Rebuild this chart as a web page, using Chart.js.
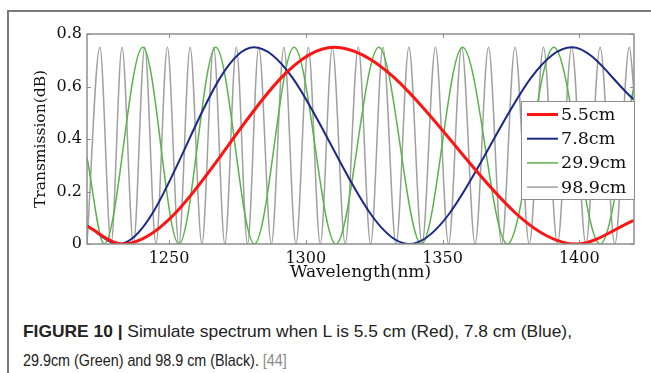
<!DOCTYPE html>
<html>
<head>
<meta charset="utf-8">
<script src="https://cdn.jsdelivr.net/npm/chart.js"></script>
<style>
  html, body { margin: 0; padding: 0; background: #fff; }
  body { width: 651px; height: 373px; position: relative; overflow: hidden; }
  #frame { position: absolute; left: 7px; top: 10px; width: 660px; height: 380px;
           border-top: 2px solid #7a7a7a; border-left: 2px solid #7a7a7a; }
  #plot { position: absolute; left: 0; top: 0; }
  .cap { position: absolute; left: 23px; font-family: 'Liberation Sans', Arial, sans-serif;
         font-size: 17px; line-height: 17px; color: #222; white-space: nowrap; transform-origin: 0 0; }
  .ref { color: #8a8a8a; }
</style>
</head>
<body>
<div id="frame"></div>
<canvas id="plot" width="651" height="300"></canvas>
<div class="cap" id="cap1" style="top:323px"><b>FIGURE 10 |</b> Simulate spectrum when L is 5.5 cm (Red), 7.8 cm (Blue),</div>
<div class="cap" id="cap2" style="top:352px">29.9cm (Green) and 98.9 cm (Black). <span class="ref">[44]</span></div>
<script>
    'use strict';

    // ─── DATA ───────────────────────────────────────────────
    const xTicks = [1250, 1300, 1350, 1400];
    const yTicks = [0, 0.2, 0.4, 0.6, 0.8];

    const seriesLabels = ['5.5cm', '7.8cm', '29.9cm', '98.9cm'];

    // 5.5 cm (red)
    const redWl = [1220, 1232.9, 1310.3, 1398.9, 1420];
    const redT  = [0.068, 0, 0.75, 0, 0.09];

    // 7.8 cm (blue)
    const blueWl = [1220, 1231.6, 1281.0, 1337.7, 1397.2, 1420];
    const blueT  = [0.07, 0, 0.75, 0, 0.75, 0.55];

    // 29.9 cm (green)
    const greenWl = [1220, 1226.3, 1240.4, 1253.6, 1267.1, 1281.2, 1295.7, 1311.0,
                     1326.7, 1342.3, 1357.3, 1373.7, 1390.7, 1407.6, 1420];
    const greenT  = [0.33, 0, 0.75, 0, 0.75, 0, 0.75, 0,
                     0.75, 0, 0.75, 0, 0.75, 0, 0.6];

    // 98.9 cm (gray)
    const grayWl = [1220, 1224.7, 1228.8, 1232.8, 1237.0, 1241.1, 1245.2, 1249.4, 1253.6,
                    1257.7, 1262.0, 1266.3, 1270.4, 1274.6, 1278.7, 1282.8, 1287.4, 1292.0,
                    1296.4, 1300.9, 1305.3, 1309.7, 1314.4, 1319.2, 1323.7, 1328.2, 1333.0,
                    1337.7, 1342.5, 1347.4, 1352.2, 1357.0, 1361.9, 1366.8, 1371.6, 1376.5,
                    1381.7, 1386.9, 1392.0, 1397.2, 1402.4, 1407.6, 1413.0, 1418.3, 1420];
    const grayT  = [0, 0.75, 0, 0.75, 0, 0.75, 0, 0.75, 0,
                    0.75, 0, 0.75, 0, 0.75, 0, 0.75, 0, 0.75,
                    0, 0.75, 0, 0.75, 0, 0.75, 0, 0.75, 0,
                    0.75, 0, 0.75, 0, 0.75, 0, 0.75, 0, 0.75,
                    0, 0.75, 0, 0.75, 0, 0.75, 0, 0.75, 0.58];

    // ─── HELPERS ────────────────────────────────────────────
    const toPoints = (wl, t) => wl.map((x, i) => ({ x: x, y: t[i] }));

    function lineSet(label, pts, color, width) {
        return {
            label: label, data: pts, borderColor: color, borderWidth: width,
            pointRadius: 0, fill: false, tension: 0.4, cubicInterpolationMode: 'monotone'
        };
    }

    // box, inward ticks and the boxed legend (MATLAB look)
    const frameBox = {
        id: 'frameBox',
        afterDraw(chart) {
            const { ctx, chartArea: a, scales: { x, y } } = chart;
            ctx.save();
            ctx.strokeStyle = '#8e8e8e';
            ctx.lineWidth = 1.5;
            ctx.strokeRect(a.left, a.top, a.right - a.left, a.bottom - a.top);

            ctx.lineWidth = 1;
            ctx.beginPath();
            xTicks.forEach(v => {
                const px = Math.round(x.getPixelForValue(v)) + 0.5;
                ctx.moveTo(px, a.top); ctx.lineTo(px, a.top + 4);
                ctx.moveTo(px, a.bottom); ctx.lineTo(px, a.bottom - 4);
            });
            yTicks.forEach(v => {
                const py = Math.round(y.getPixelForValue(v)) + 0.5;
                ctx.moveTo(a.left, py); ctx.lineTo(a.left + 4, py);
                ctx.moveTo(a.right, py); ctx.lineTo(a.right - 4, py);
            });
            ctx.stroke();

            // legend
            const lx = 521, ly = 101, lw = 113, lh = 98;
            ctx.fillStyle = '#fff';
            ctx.fillRect(lx, ly, lw, lh);
            ctx.strokeStyle = '#8e8e8e';
            ctx.strokeRect(lx + 0.5, ly + 0.5, lw, lh);
            ctx.font = '17.5px "DejaVu Serif"';
            ctx.textBaseline = 'middle';
            ctx.textAlign = 'left';
            chart.data.datasets.forEach((ds, i) => {
                const yy = ly + 13.5 + i * 24.2;
                ctx.strokeStyle = ds.borderColor;
                ctx.lineWidth = ds.borderWidth;
                ctx.beginPath();
                ctx.moveTo(lx + 6, yy); ctx.lineTo(lx + 37, yy);
                ctx.stroke();
                ctx.fillStyle = '#111';
                ctx.fillText(ds.label, lx + 40, yy + 1);
            });
            ctx.restore();
        }
    };

    // ─── RENDER ─────────────────────────────────────────────
    const tickFont = { family: 'DejaVu Serif', size: 16 };

    new Chart(document.getElementById('plot').getContext('2d'), {
        type: 'line',
        data: {
            datasets: [
                lineSet(seriesLabels[0], toPoints(redWl, redT), '#ff1414', 3),
                lineSet(seriesLabels[1], toPoints(blueWl, blueT), '#1b2a86', 2),
                lineSet(seriesLabels[2], toPoints(greenWl, greenT), '#5ab34a', 1.5),
                lineSet(seriesLabels[3], toPoints(grayWl, grayT), '#a0a0a0', 1.5)
            ]
        },
        options: {
            responsive: false,
            animation: false,
            devicePixelRatio: 1,
            layout: { padding: { left: 0, top: 34, right: 17, bottom: 0 } },
            plugins: { legend: { display: false }, tooltip: { enabled: false } },
            scales: {
                x: {
                    type: 'linear', min: 1220, max: 1420,
                    afterBuildTicks: s => { s.ticks = xTicks.map(v => ({ value: v })); },
                    afterFit: s => { s.height = 56; },
                    grid: { display: false, drawTicks: false },
                    border: { display: false },
                    ticks: { font: tickFont, color: '#111', padding: 5, maxRotation: 0,
                             callback: v => String(v) },
                    title: { display: true, text: 'Wavelength(nm)', color: '#111',
                             font: { family: 'DejaVu Serif', size: 17 }, padding: { top: 0, bottom: 17 } }
                },
                y: {
                    min: 0, max: 0.8,
                    afterBuildTicks: s => { s.ticks = yTicks.map(v => ({ value: v })); },
                    afterFit: s => { s.width = 87; },
                    grid: { display: false, drawTicks: false },
                    border: { display: false },
                    ticks: { font: tickFont, color: '#111', padding: 5,
                             callback: v => (v === 0 ? '0' : v.toFixed(1)) },
                    title: { display: true, text: 'Transmission(dB)', color: '#111',
                             font: { family: 'DejaVu Serif', size: 15.5 }, padding: { top: 32, bottom: 0 } }
                }
            }
        },
        plugins: [frameBox]
    });

    // squeeze each caption line to the width it has in the figure
    [['cap1', 549], ['cap2', 264]].forEach(([id, w]) => {
        const el = document.getElementById(id);
        el.style.transform = 'scaleX(' + (w / el.offsetWidth) + ')';
    });
</script>
</body>
</html>
